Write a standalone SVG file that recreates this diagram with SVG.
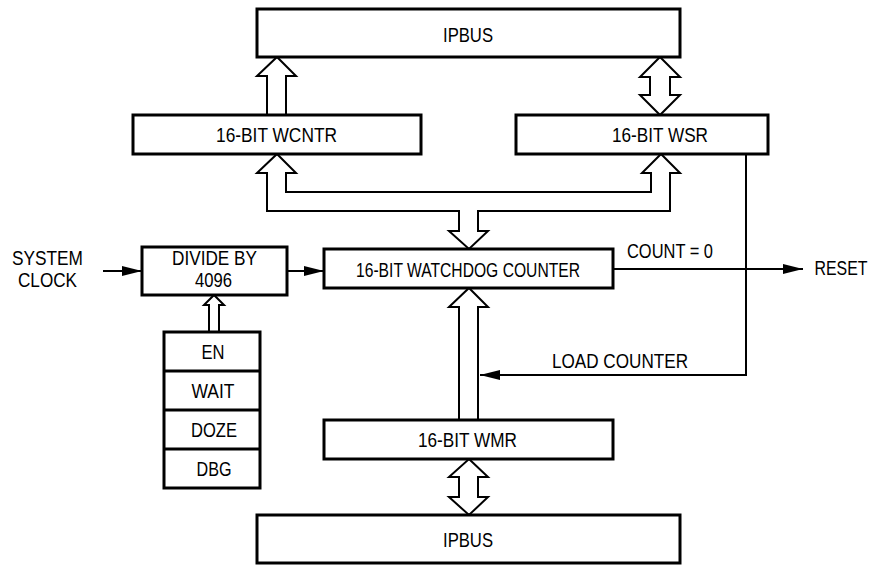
<svg xmlns="http://www.w3.org/2000/svg" width="882" height="565" viewBox="0 0 882 565">
<style>
.box{fill:#fff;stroke:#000;stroke-width:3}
.bus{fill:#fff;stroke:#000;stroke-width:2;stroke-linejoin:miter}
.sig{fill:none;stroke:#000;stroke-width:2}
text{font-family:"Liberation Sans Narrow","Liberation Sans",Arial,sans-serif;font-size:21px;fill:#000;text-anchor:middle}
</style>
<defs>
<marker id="ah" markerUnits="userSpaceOnUse" markerWidth="20" markerHeight="10" refX="20" refY="5" orient="auto">
<path d="M0,0 L20,5 L0,10 z" fill="#000"/>
</marker>
</defs>
<rect width="882" height="565" fill="#fff"/>
<g id="connectors">
<polygon class="bus" points="267,116 267,76 257,76 277,57 296,76 286,76 286,116"/>
<polygon class="bus" points="660,57 680,77 670,77 670,95 680,95 660,115 640,95 650,95 650,77 640,77"/>
<polygon class="bus" points="277,154 296,173 286,173 286,192 651,192 651,173 642,173 661,154 680,173 670,173 670,211 478,211 478,231 488,231 469,249 449,231 459,231 459,211 267,211 267,173 257,173"/>
<polygon class="bus" points="459,421 459,307 449,307 469,288 488,307 478,307 478,421"/>
<polygon class="bus" points="469,459 488,477 478,477 478,497 488,497 469,515 449,497 459,497 459,477 449,477"/>
<polygon class="bus" points="209,333 209,305 204,305 214,295 224,305 219,305 219,333"/>
<line class="sig" x1="103" y1="271" x2="142" y2="271" marker-end="url(#ah)"/>
<line class="sig" x1="287" y1="271" x2="324" y2="271" marker-end="url(#ah)"/>
<line class="sig" x1="613" y1="269" x2="803" y2="269" marker-end="url(#ah)"/>
<path class="sig" d="M746,154 V375 H480" marker-end="url(#ah)"/>
</g>
<g id="ipbus-top"><rect class="box" x="257" y="9" width="423" height="48"/><text x="468" y="42" textLength="50" lengthAdjust="spacingAndGlyphs">IPBUS</text></g>
<g id="wcntr"><rect class="box" x="133" y="115" width="288" height="39"/><text x="276.5" y="142" textLength="121" lengthAdjust="spacingAndGlyphs">16-BIT WCNTR</text></g>
<g id="wsr"><rect class="box" x="516" y="115" width="252" height="39"/><text x="660" y="142" textLength="96" lengthAdjust="spacingAndGlyphs">16-BIT WSR</text></g>
<g id="sysclk"><text x="47.5" y="265" textLength="71" lengthAdjust="spacingAndGlyphs">SYSTEM</text><text x="47.5" y="287" textLength="59" lengthAdjust="spacingAndGlyphs">CLOCK</text></g>
<g id="divide"><rect class="box" x="142" y="247" width="145" height="48"/><text x="214.5" y="265" textLength="85" lengthAdjust="spacingAndGlyphs">DIVIDE BY</text><text x="213.5" y="287" textLength="37" lengthAdjust="spacingAndGlyphs">4096</text></g>
<g id="watchdog"><rect class="box" x="324" y="249" width="289" height="39"/><text x="468" y="277" textLength="224" lengthAdjust="spacingAndGlyphs">16-BIT WATCHDOG COUNTER</text></g>
<g id="count-label"><text x="670" y="258" textLength="86" lengthAdjust="spacingAndGlyphs">COUNT = 0</text></g>
<g id="reset"><text x="841" y="275" style="font-size:20px" textLength="53" lengthAdjust="spacingAndGlyphs">RESET</text></g>
<g id="load-label"><text x="620" y="368" textLength="136" lengthAdjust="spacingAndGlyphs">LOAD COUNTER</text></g>
<g id="control">
<rect class="box" x="164" y="332" width="96" height="156"/>
<line class="box" x1="164" y1="371" x2="260" y2="371"/>
<line class="box" x1="164" y1="410" x2="260" y2="410"/>
<line class="box" x1="164" y1="449" x2="260" y2="449"/>
<text x="213" y="359" textLength="23" lengthAdjust="spacingAndGlyphs">EN</text>
<text x="213" y="398" textLength="43" lengthAdjust="spacingAndGlyphs">WAIT</text>
<text x="214" y="437" textLength="46" lengthAdjust="spacingAndGlyphs">DOZE</text>
<text x="214" y="476" textLength="35" lengthAdjust="spacingAndGlyphs">DBG</text>
</g>
<g id="wmr"><rect class="box" x="324" y="420" width="289" height="39"/><text x="467.5" y="447" textLength="99" lengthAdjust="spacingAndGlyphs">16-BIT WMR</text></g>
<g id="ipbus-bottom"><rect class="box" x="257" y="515" width="423" height="48"/><text x="468" y="547" textLength="50" lengthAdjust="spacingAndGlyphs">IPBUS</text></g>
</svg>
